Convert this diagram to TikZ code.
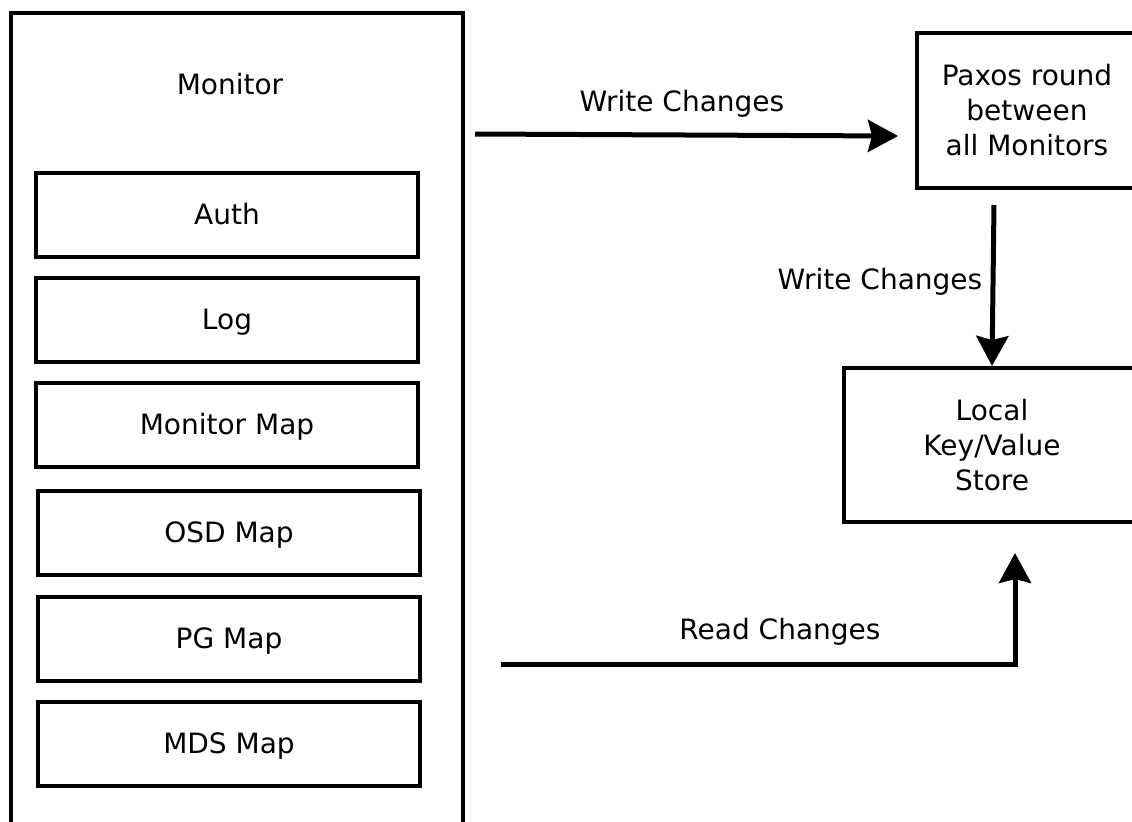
\documentclass[tikz,border=0pt]{standalone}
\usepackage{fontspec}
\setmainfont{DejaVu Sans}
\usetikzlibrary{arrows.meta}
\begin{document}
\begin{tikzpicture}[x=0.5pt,y=-0.5pt]
\def\bw{191pt}
\def\bh{42pt}
\tikzset{
base/.style={font=\fontsize{14}{17.5}\selectfont},
box/.style={base,draw,line width=2pt,inner sep=0pt,align=center},
map/.style={box,minimum width=\bw,minimum height=\bh,text height=12pt,text depth=2.5pt},
lbl/.style={base,text height=10pt,text depth=3pt,yshift=-1.5pt},
every path/.style={>={Stealth[length=15pt,width=16pt,inset=2pt]}},
flow/.style={->,line width=2.5pt}}
\clip (0,0) rectangle (1132,821);
\node[box,minimum width=226pt,minimum height=419pt] (mon) at (237,432) {};
\node[lbl] (montitle) at (230,84) {Monitor};
\foreach \name/\txt/\x/\y in {auth/Auth/227/215,log/Log/227/320,monmap/Monitor Map/227/425,osdmap/OSD Map/229/533,pgmap/PG Map/229/639,mdsmap/MDS Map/229/744}
  \node[map] (\name) at (\x,\y) {\txt};
\node[box,minimum width=110pt,minimum height=77.5pt] (paxos) at (1027,110.5) {Paxos round\\between\\all Monitors};
\node[box,minimum width=148pt,minimum height=77pt] (kvstore) at (992,445) {Local\\Key/Value\\Store};
\coordinate (w1s) at (475,134);
\coordinate (w1e) at (898,136);
\coordinate (w2s) at (994,205);
\coordinate (r1s) at (501,664);
\coordinate (r1e) at (1015,553);
\draw[flow] (w1s) -- (w1e);
\draw[flow] (w2s) -- (kvstore.north);
\draw[flow] (r1s) -| (r1e);
\node[lbl] (w1lbl) at (682,101) {Write Changes};
\node[lbl] (w2lbl) at (880,279) {Write Changes};
\node[lbl] (r1lbl) at (780,629) {Read Changes};
\end{tikzpicture}
\end{document}
